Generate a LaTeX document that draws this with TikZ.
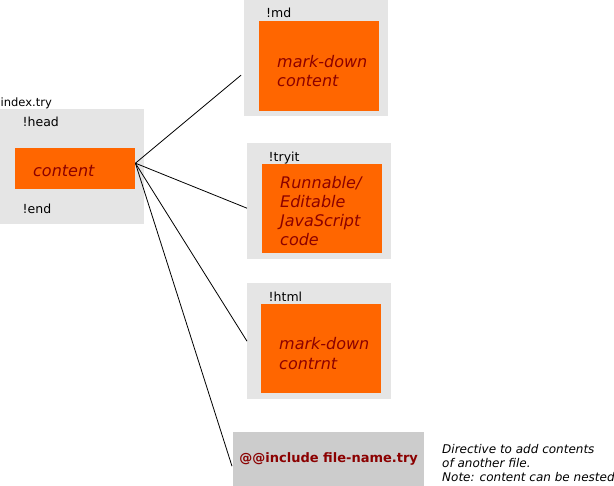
\documentclass[tikz,border=0pt]{standalone}
\usepackage{fontspec}
\setmainfont{DejaVu Sans}
\definecolor{boxgray}{HTML}{E5E5E5}
\definecolor{incgray}{HTML}{CCCCCC}
\definecolor{tryorange}{HTML}{FF6600}
\definecolor{textred}{HTML}{8B0000}
\begin{document}
\begin{tikzpicture}[x=1pt, y=-1pt,
    graybox/.style={fill=boxgray, draw=none, inner sep=0pt, anchor=north west},
    orangebox/.style={fill=tryorange, draw=none, anchor=north west, minimum width=120pt,
        text width=84pt, inner xsep=18pt, inner ysep=0pt, align=left, text=textred,
        font=\fontsize{16}{19.5}\selectfont\itshape},
    pushdown/.style={execute at begin node={\rule{0pt}{#1}}},
    tag/.style={inner sep=0pt, anchor=base west, font=\fontsize{12.5}{15}\selectfont},
    link/.style={line width=0.8pt, black}]
    % --- 画布大小 ---
    \useasboundingbox (0,0) rectangle (614,486);

    % --- 主文件 index.try ---
    \node[graybox, minimum width=144pt, minimum height=115pt] (index) at (0,109) {};
    \node[tag, font=\fontsize{11.5}{14}\selectfont] (indexname) at (0.5,107) {index.try};
    \node[tag] (head) at (22.5,127) {!head};
    \node[tag] (end) at (22.5,214) {!end};
    \node[orangebox, pushdown=16pt, minimum height=41pt] (content) at (15,148) {content};

    % --- 右侧各块 ---
    % !md
    \node[graybox, minimum width=144pt, minimum height=116pt] (md) at (244,0) {};
    \node[tag] (mdtag) at (266,18) {!md};
    \node[orangebox, pushdown=22pt, minimum height=90pt] (mdbody) at (259,21) {\mbox{mark-down}\\content};
    % !tryit
    \node[graybox, minimum width=144pt, minimum height=116pt] (tryit) at (247,143) {};
    \node[tag] (trytag) at (268.5,161.5) {!tryit};
    \node[orangebox, pushdown=17pt, minimum height=89pt,
        font=\fontsize{16}{19.2}\selectfont\itshape] (trybody) at (262,164) {Runnable/\\Editable\\JavaScript\\code};
    % !html
    \node[graybox, minimum width=144pt, minimum height=116pt] (html) at (247,283) {};
    \node[tag] (htmltag) at (268.5,301.5) {!html};
    \node[orangebox, pushdown=22pt, minimum height=89pt] (htmlbody) at (261,304) {\mbox{mark-down}\\contrnt};

    % --- @@include ---
    \node[graybox, fill=incgray, minimum width=191pt, minimum height=54pt, text=textred,
        font=\fontsize{13}{15}\selectfont\bfseries] (include) at (233,432) {@@include file-name.try};
    \node[inner sep=0pt, anchor=north west, align=left,
        font=\fontsize{12}{14.3}\selectfont\itshape] (note) at (442,444)
        {Directive to add contents\\of another file.\\Note: content can be nested};

    % --- 连线 ---
    \coordinate (hub) at ([yshift=5.5pt]content.east);
    \draw[link] (hub) -- ([xshift=-3pt,yshift=-17pt]md.west);
    \draw[link] (hub) -- ([yshift=-7pt]tryit.west);
    \draw[link] (hub) -- (html.west);
    \draw[link] (hub) -- ([xshift=-1pt,yshift=-7pt]include.west);
\end{tikzpicture}
\end{document}
